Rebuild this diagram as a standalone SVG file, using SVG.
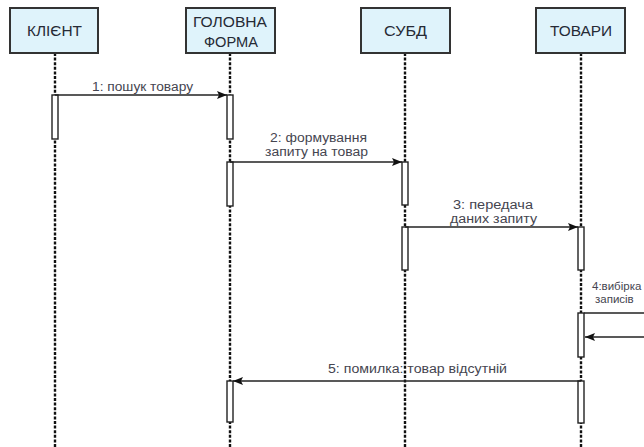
<svg xmlns="http://www.w3.org/2000/svg" width="644" height="447" viewBox="0 0 644 447">
  <defs>
    <style>
      .obj { fill: #dff3fb; stroke: #333; stroke-width: 2; }
      .objtxt { font-family: "Liberation Sans", Arial, sans-serif; font-size: 14.5px; fill: #262a35; text-anchor: middle; }
      .life { stroke: #111; stroke-width: 2.4; stroke-dasharray: 3 1.6; fill: none; }
      .act { fill: #fff; stroke: #222; stroke-width: 1.4; }
      .msg { stroke: #222; stroke-width: 1.3; fill: none; }
      .lbl { font-family: "Liberation Sans", Arial, sans-serif; font-size: 12.5px; fill: #454550; text-anchor: middle; }
      .lbl.left { text-anchor: start; font-size: 11.5px; }
    </style>
    <marker id="arrow" viewBox="0 0 10 8" refX="10" refY="4" markerWidth="10" markerHeight="8" markerUnits="userSpaceOnUse" orient="auto">
      <path d="M0,0 L10,4 L0,8 L2,4 Z" fill="#111"/>
    </marker>
  </defs>
  <rect width="644" height="447" fill="#fff"/>

  <!-- lifelines -->
  <g id="lifelines">
    <line class="life" x1="55" y1="53" x2="55" y2="447"/>
    <line class="life" x1="230" y1="53" x2="230" y2="447"/>
    <line class="life" x1="405" y1="53" x2="405" y2="447"/>
    <line class="life" x1="581" y1="53" x2="581" y2="447"/>
  </g>

  <g id="client">
    <rect class="obj" x="10" y="8" width="88" height="45"/>
    <text class="objtxt" x="54.5" y="36" textLength="55" lengthAdjust="spacingAndGlyphs">КЛІЄНТ</text>
  </g>
  <g id="main-form">
    <rect class="obj" x="186" y="8" width="89" height="45"/>
    <text class="objtxt" x="230" y="27" textLength="74" lengthAdjust="spacingAndGlyphs">ГОЛОВНА</text>
    <text class="objtxt" x="231" y="47" textLength="54" lengthAdjust="spacingAndGlyphs">ФОРМА</text>
  </g>
  <g id="dbms">
    <rect class="obj" x="361" y="8" width="89" height="45"/>
    <text class="objtxt" x="405.5" y="36" textLength="43" lengthAdjust="spacingAndGlyphs">СУБД</text>
  </g>
  <g id="goods">
    <rect class="obj" x="536" y="8" width="89" height="45"/>
    <text class="objtxt" x="581" y="36" textLength="62" lengthAdjust="spacingAndGlyphs">ТОВАРИ</text>
  </g>

  <!-- activation bars -->
  <g id="activations">
    <rect class="act" x="52" y="95" width="6" height="44"/>
    <rect class="act" x="227" y="95" width="6" height="44"/>
    <rect class="act" x="227" y="162" width="6" height="44"/>
    <rect class="act" x="402" y="162" width="6" height="43"/>
    <rect class="act" x="402" y="227" width="6" height="43"/>
    <rect class="act" x="578" y="227" width="6" height="43"/>
    <rect class="act" x="578" y="313" width="6" height="44"/>
    <rect class="act" x="227" y="381" width="6" height="41"/>
    <rect class="act" x="578" y="381" width="6" height="42"/>
  </g>

  <!-- messages -->
  <g id="connectors">
    <line class="msg" x1="55" y1="95" x2="227" y2="95" marker-end="url(#arrow)"/>
    <line class="msg" x1="230" y1="162" x2="402" y2="162" marker-end="url(#arrow)"/>
    <line class="msg" x1="405" y1="227" x2="578" y2="227" marker-end="url(#arrow)"/>
    <line class="msg" x1="584" y1="313" x2="650" y2="313"/>
    <line class="msg" x1="650" y1="337" x2="585" y2="337" marker-end="url(#arrow)"/>
    <line class="msg" x1="581" y1="381" x2="233" y2="381" marker-end="url(#arrow)"/>
  </g>

  <g id="labels">
    <text class="lbl" x="142.5" y="91" textLength="101" lengthAdjust="spacingAndGlyphs">1: пошук товару</text>
    <text class="lbl" x="318.5" y="142" textLength="97" lengthAdjust="spacingAndGlyphs">2: формування</text>
    <text class="lbl" x="316.5" y="156" textLength="103" lengthAdjust="spacingAndGlyphs">запиту на товар</text>
    <text class="lbl" x="493" y="209" textLength="80" lengthAdjust="spacingAndGlyphs">3: передача</text>
    <text class="lbl" x="493.5" y="223" textLength="87" lengthAdjust="spacingAndGlyphs">даних запиту</text>
    <text class="lbl left" x="592" y="290">4:вибірка</text>
    <text class="lbl left" x="595" y="303">записів</text>
    <text class="lbl" x="417.5" y="373" textLength="179" lengthAdjust="spacingAndGlyphs">5: помилка:  товар відсутній</text>
  </g>
</svg>
